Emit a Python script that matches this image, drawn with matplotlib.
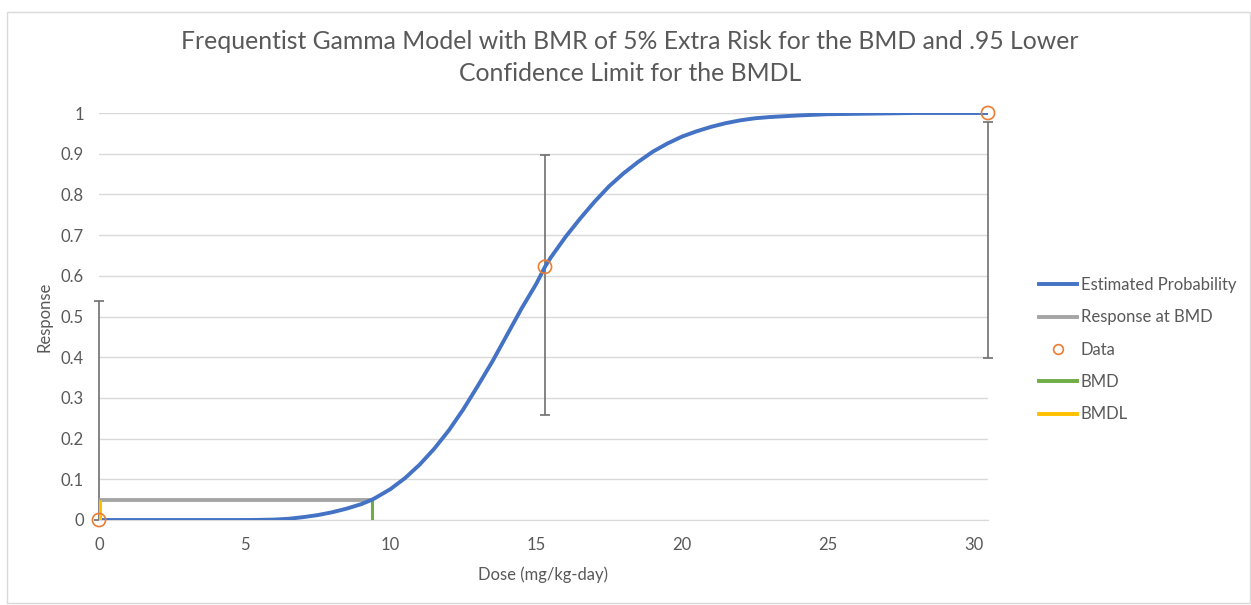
import numpy as np
import matplotlib.pyplot as plt
from matplotlib.lines import Line2D
from matplotlib.patches import Rectangle

# estimated probability curve
curve_dose = [0, 5, 5.5, 6, 6.5, 7, 7.5, 8, 8.5, 9, 9.37, 9.5, 10, 10.5, 11, 11.5,
              12, 12.5, 13, 13.5, 14, 14.5, 15, 15.3, 15.5, 16, 16.5, 17, 17.5,
              18, 18.5, 19, 19.5, 20, 20.5, 21, 21.5, 22, 22.5, 23, 24, 25, 26,
              27, 28, 30.5]
curve_prob = [0, 0, 0.0003, 0.001, 0.003, 0.007, 0.012, 0.019, 0.028, 0.039, 0.05,
              0.055, 0.076, 0.103, 0.136, 0.175, 0.22, 0.272, 0.33, 0.39, 0.455,
              0.52, 0.58, 0.622, 0.645, 0.695, 0.74, 0.782, 0.82, 0.852, 0.88,
              0.905, 0.925, 0.942, 0.955, 0.966, 0.975, 0.982, 0.987, 0.99, 0.994,
              0.997, 0.998, 0.999, 1.0, 1.0]

data_dose = [0, 15.3, 30.5]
data_resp = [0, 0.622, 1.0]
err_low = [0, 0.258, 0.397]
err_high = [0.537, 0.897, 0.977]

bmd = 9.37
bmdl = 0.03
bmr_resp = 0.05

blue = '#4472C4'
grey = '#A5A5A5'
orange = '#ED7D31'
green = '#70AD47'
yellow = '#FFC000'
txt = '#595959'

plt.rcParams['font.family'] = ['Lato', 'DejaVu Sans']

fig = plt.figure(figsize=(12.51, 6.05), dpi=100)
ax = fig.add_axes([99 / 1251, 1 - 520 / 605, (988 - 99) / 1251, (520 - 113) / 605])

ax.plot(curve_dose, curve_prob, color=blue, lw=2.8, zorder=4, solid_capstyle='butt')
ax.plot([0, bmd], [bmr_resp, bmr_resp], color=grey, lw=2.8, zorder=3, solid_capstyle='butt')
ax.plot([bmd, bmd], [0, bmr_resp], color=green, lw=2.2, zorder=3, solid_capstyle='butt')
ax.plot([bmdl, bmdl], [0, bmr_resp], color=yellow, lw=2.2, zorder=5, solid_capstyle='butt')

# confidence bars
ax.vlines(data_dose, err_low, err_high, color='#6F6F6F', lw=1.2, zorder=2, clip_on=False)
ax.plot(data_dose, err_low, ls='none', marker='_', ms=7, mew=1.2, color='#6F6F6F', zorder=2, clip_on=False)
ax.plot(data_dose, err_high, ls='none', marker='_', ms=7, mew=1.2, color='#6F6F6F', zorder=2, clip_on=False)
ax.scatter(data_dose, data_resp, s=90, facecolors='none', edgecolors=orange, linewidths=1.2,
           zorder=6, clip_on=False)

ax.set_xlim(0, 30.5)
ax.set_ylim(0, 1)
ax.set_xticks([0, 5, 10, 15, 20, 25, 30])
ax.set_yticks(np.arange(0, 1.01, 0.1))
ax.set_yticklabels(['0', '0.1', '0.2', '0.3', '0.4', '0.5', '0.6', '0.7', '0.8', '0.9', '1'])
ax.grid(axis='y', color='#D9D9D9', lw=1)
ax.set_axisbelow(True)
for s in ['top', 'right', 'left']:
    ax.spines[s].set_visible(False)
ax.spines['bottom'].set_color('#D9D9D9')
ax.tick_params(length=0, labelsize=12, colors=txt)
ax.tick_params(axis='x', pad=12)
ax.tick_params(axis='y', pad=11)

ax.set_xlabel('Dose (mg/kg-day)', fontsize=12, color=txt, labelpad=10)
ax.set_ylabel('Response', fontsize=12, color=txt, labelpad=6)

fig.text(630 / 1251, 1 - 57.5 / 605,
         'Frequentist Gamma Model with BMR of 5% Extra Risk for the BMD and .95 Lower\nConfidence Limit for the BMDL',
         ha='center', va='center', fontsize=17.8, color=txt, linespacing=1.45)

handles = [Line2D([], [], color=blue, lw=2.8),
           Line2D([], [], color=grey, lw=2.8),
           Line2D([], [], ls='none', marker='o', ms=7, mfc='none', mec=orange, mew=1.2),
           Line2D([], [], color=green, lw=2.8),
           Line2D([], [], color=yellow, lw=2.8)]
labels = ['Estimated Probability', 'Response at BMD', 'Data', 'BMD', 'BMDL']
leg = fig.legend(handles, labels, loc='upper left', bbox_to_anchor=(1024 / 1251, 1 - 262 / 605),
                 frameon=False, fontsize=12, handlelength=2.3, handletextpad=0.2,
                 labelspacing=0.98)
for t in leg.get_texts():
    t.set_color(txt)

fig.patches.append(Rectangle((7 / 1251, 2 / 605), 1243 / 1251, 591 / 605, transform=fig.transFigure,
                             fill=False, edgecolor='#D9D9D9', lw=1))

fig.savefig('out.png', dpi=100)
